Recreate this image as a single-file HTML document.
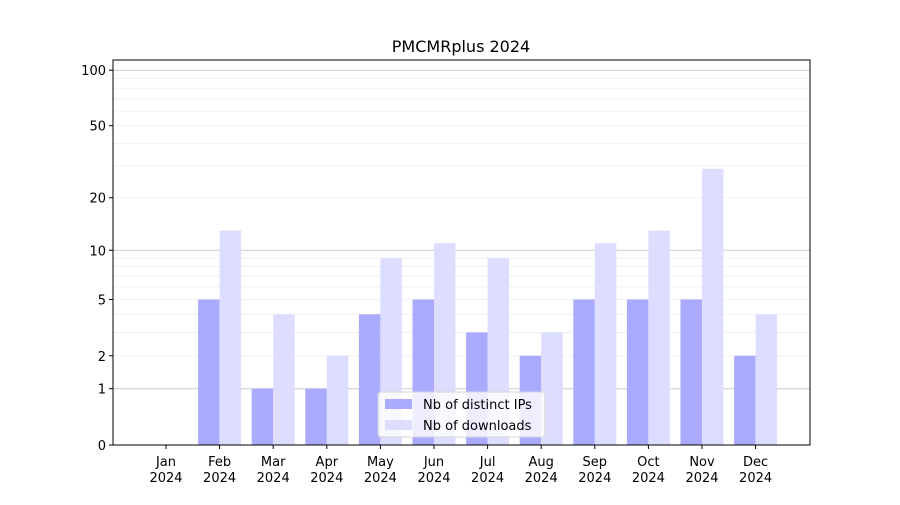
<!DOCTYPE html>
<html><head><meta charset="utf-8"><style>
body{margin:0;background:#fff;font-family:"Liberation Sans","DejaVu Sans",sans-serif;}
svg text{font-family:"DejaVu Sans","Liberation Sans",sans-serif;}
</style></head><body>
<svg id="chart" width="900" height="500" xmlns="http://www.w3.org/2000/svg">
<rect width="900" height="500" fill="#fff"/>
<text x="461" y="52" font-size="16" text-anchor="middle">PMCMRplus 2024</text>
<g id="grid"></g><g id="bars"></g><g id="axes"></g>
</svg>
<script>
const categories=["Jan","Feb","Mar","Apr","May","Jun","Jul","Aug","Sep","Oct","Nov","Dec"];
const ips=[0,5,1,1,4,5,3,2,5,5,5,2];
const downloads=[0,13,4,2,9,11,9,3,11,13,29,4];
const majorTicks=[0,1,2,5,10,20,50,100];
const gridMajor=[1,10,100];
const gridMinor=[3,4,6,7,8,9,20,30,40,50,60,70,80,90,2,5];
const NS="http://www.w3.org/2000/svg";
const L=113,R=810,T=60,B=445;
function y(v){return B-187*Math.log10(1+v);}
function xc(i){return 166+i*53.6;}
function mk(tag,attrs,parent){const e=document.createElementNS(NS,tag);for(const k in attrs)e.setAttribute(k,attrs[k]);document.getElementById(parent).appendChild(e);return e;}
gridMinor.forEach(v=>{const l=mk('line',{x1:L,x2:R,y1:y(v),y2:y(v),stroke:'#eeeeee','stroke-width':0.8},'grid');

});
gridMajor.forEach(v=>{const l=mk('line',{x1:L,x2:R,y1:y(v),y2:y(v),stroke:'#cccccc','stroke-width':1},'grid');

});
const bw=21.5;
categories.forEach((c,i)=>{
 const a=mk('rect',{x:xc(i)-bw,y:y(ips[i]),width:bw,height:B-y(ips[i]),fill:'#aaaaff'},'bars');
 
 
 const b=mk('rect',{x:xc(i),y:y(downloads[i]),width:bw,height:B-y(downloads[i]),fill:'#ddddff'},'bars');
 
 
 mk('line',{x1:xc(i),x2:xc(i),y1:B,y2:B+4,stroke:'#000'},'axes');
 const t=mk('text',{x:xc(i),y:B+21,'font-size':13,'text-anchor':'middle'},'axes');
 t.textContent=c;
 
 
 const t2=mk('text',{x:xc(i),y:B+37,'font-size':13,'text-anchor':'middle'},'axes');
 t2.textContent='2024';
 
 
});
majorTicks.forEach(v=>{
 mk('line',{x1:L-4,x2:L,y1:y(v),y2:y(v),stroke:'#000'},'axes');
 const t=mk('text',{x:L-7,y:y(v)+5,'font-size':13,'text-anchor':'end'},'axes');
 t.textContent=v;
 
 
});
const fr=mk('rect',{x:L,y:T,width:R-L,height:B-T,fill:'none',stroke:'#000','stroke-width':1},'axes');


const lg=mk('g',{},'axes');


lg.innerHTML='<rect x="378" y="392" width="167" height="45" rx="3" fill="#fff" fill-opacity="0.8" stroke="#d5d5d5"/>'+
'<rect x="385" y="399" width="27" height="10" fill="#aaaaff"/><text x="423" y="409" font-size="13">Nb of distinct IPs</text>'+
'<rect x="385" y="420" width="27" height="10" fill="#ddddff"/><text x="423" y="430" font-size="13">Nb of downloads</text>';
</script>
</body></html>
